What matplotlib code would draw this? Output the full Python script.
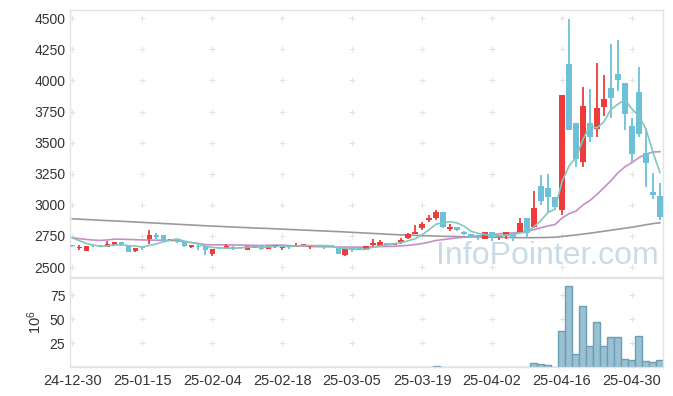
import matplotlib
matplotlib.use('Agg')
import matplotlib.pyplot as plt
import numpy as np
import pandas as pd

plt.rcParams['font.family'] = ['Liberation Sans', 'DejaVu Sans']

# tick labels every 10 trading days
tick_dates = ['24-12-30', '25-01-15', '25-02-04', '25-02-18', '25-03-05',
              '25-03-19', '25-04-02', '25-04-16', '25-04-30']

# daily OHLC
opens = [2672, 2652, 2631, 2671, 2674, 2661, 2679, 2698, 2679, 2631,
         2657, 2725, 2759, 2757, 2711, 2727, 2706, 2661, 2663, 2669,
         2607, 2655, 2647, 2657, 2657, 2639, 2655, 2669, 2647, 2661,
         2650, 2669, 2663, 2671, 2661, 2677, 2669, 2674, 2655, 2594,
         2655, 2658, 2637, 2677, 2671, 2693, 2679, 2698, 2735, 2768,
         2811, 2875, 2896, 2944, 2808, 2821, 2784, 2762, 2755, 2728,
         2781, 2738, 2749, 2770, 2779, 2891, 2819, 3151, 3133, 3063,
         2955, 4131, 3659, 3346, 3659, 3612, 3783, 3937, 4050, 3978,
         3633, 3906, 3420, 3102, 3068]
highs = [2676, 2677, 2668, 2673, 2676, 2709, 2700, 2700, 2681, 2657,
         2672, 2797, 2773, 2759, 2727, 2729, 2708, 2679, 2677, 2671,
         2649, 2658, 2685, 2669, 2660, 2668, 2671, 2671, 2673, 2679,
         2671, 2671, 2690, 2687, 2679, 2679, 2671, 2676, 2657, 2657,
         2657, 2660, 2671, 2722, 2716, 2695, 2695, 2730, 2775, 2837,
         2859, 2918, 2957, 2946, 2843, 2823, 2786, 2764, 2757, 2783,
         2783, 2759, 2783, 2772, 2891, 2893, 3110, 3238, 3250, 3065,
         3884, 4496, 3661, 3951, 3928, 4143, 4041, 4291, 4327, 3980,
         3694, 4104, 3614, 3253, 3175]
lows = [2664, 2636, 2629, 2665, 2666, 2659, 2677, 2666, 2621, 2623,
        2638, 2687, 2727, 2709, 2709, 2696, 2665, 2653, 2637, 2596,
        2591, 2645, 2645, 2637, 2645, 2637, 2653, 2637, 2645, 2651,
        2640, 2645, 2661, 2669, 2645, 2667, 2645, 2661, 2605, 2592,
        2618, 2643, 2635, 2661, 2669, 2675, 2677, 2685, 2722, 2766,
        2794, 2864, 2880, 2817, 2792, 2793, 2760, 2736, 2719, 2726,
        2713, 2719, 2722, 2713, 2777, 2733, 2817, 3000, 2944, 2958,
        2918, 3598, 3301, 3306, 3504, 3542, 3715, 3700, 3911, 3600,
        3342, 3542, 3147, 3044, 2875]
closes = [2668, 2658, 2666, 2668, 2670, 2685, 2698, 2682, 2623, 2655,
          2653, 2757, 2738, 2711, 2725, 2698, 2671, 2677, 2659, 2634,
          2647, 2651, 2669, 2653, 2653, 2666, 2669, 2647, 2671, 2677,
          2669, 2658, 2674, 2685, 2677, 2669, 2658, 2663, 2607, 2655,
          2639, 2645, 2669, 2695, 2701, 2677, 2693, 2719, 2762, 2784,
          2843, 2891, 2944, 2819, 2824, 2795, 2762, 2738, 2733, 2781,
          2738, 2757, 2781, 2738, 2856, 2770, 2974, 3033, 3060, 2982,
          3882, 3600, 3365, 3795, 3547, 3780, 3853, 3861, 4002, 3732,
          3406, 3572, 3339, 3081, 2904]

# volume in millions
volume = [0, 0, 0, 0, 0, 0, 0, 0, 0, 0,
          0, 0, 0, 0, 0, 0, 0, 0, 0, 0,
          0, 0, 0, 0, 0, 0, 0, 0, 0, 0,
          0, 0, 0, 0, 0, 0, 0, 0, 0, 0,
          0, 0, 0, 0, 0, 0, 0, 0, 0, 0,
          0, 0, 1.0, 0, 0, 0, 0, 0, 0, 0,
          0, 0, 0, 0, 0, 0, 4.2, 3.1, 2.0, 0,
          37.5, 84.4, 13.5, 63.5, 21.9, 46.5, 21.9, 30.9, 30.9, 8.3,
          7.3, 32.3, 6.2, 5.2, 7.3]

# moving averages before enough days are on the chart
ma5_lead = [2735, 2712, 2690, 2677]
ma20_lead = [2735, 2728, 2722, 2717, 2714, 2718, 2724, 2724, 2722, 2720,
             2718, 2717, 2716, 2715, 2714, 2712, 2704, 2697, 2690]
ma_long = [2888, 2885, 2882, 2879, 2876, 2873, 2871, 2868, 2865, 2862,
           2859, 2856, 2853, 2850, 2847, 2844, 2841, 2838, 2835, 2832,
           2829, 2827, 2824, 2822, 2819, 2817, 2814, 2812, 2810, 2807,
           2805, 2802, 2800, 2797, 2795, 2792, 2790, 2787, 2785, 2782,
           2779, 2776, 2773, 2770, 2767, 2764, 2761, 2759, 2757, 2755,
           2753, 2751, 2749, 2747, 2746, 2745, 2744, 2743, 2742, 2741,
           2740, 2739, 2738, 2737, 2736, 2736, 2736, 2737, 2738, 2740,
           2746, 2752, 2758, 2765, 2772, 2780, 2788, 2796, 2804, 2812,
           2820, 2830, 2840, 2849, 2856]

RED = '#ef3b3b'
BLUE = '#6cc1d9'

n = len(closes)
x = np.arange(n)
o = np.array(opens, dtype=float)
h = np.array(highs, dtype=float)
l = np.array(lows, dtype=float)
c = np.array(closes, dtype=float)

cs = pd.Series(c)
ma5 = cs.rolling(5).mean().values
ma5[:len(ma5_lead)] = ma5_lead
ma20 = cs.rolling(20).mean().values
ma20[:len(ma20_lead)] = ma20_lead

fig = plt.figure(figsize=(6.73, 3.96), dpi=100)
ax = fig.add_axes([0.1033, 0.3005, 0.8819, 0.673])
axv = fig.add_axes([0.1033, 0.0732, 0.8819, 0.2247], sharex=ax)

xt = np.arange(0, n, 10)
yt = np.arange(2500, 4501, 250)
vt = [25, 50, 75]

# grid as small crosses
gx, gy = np.meshgrid(xt, yt)
ax.scatter(gx.ravel(), gy.ravel(), marker='+', s=14, color='#e4e4e4', linewidths=0.8, zorder=0)
gx, gy = np.meshgrid(xt, vt)
axv.scatter(gx.ravel(), gy.ravel(), marker='+', s=14, color='#e4e4e4', linewidths=0.8, zorder=0)

# watermark
ax.text((547 - 72) / 7, 2500 + (267 - 256) / 0.1245, 'InfoPointer.com', fontsize=23,
        color='#c9dbe6', ha='center', va='center', zorder=1)

# moving averages
ax.plot(x, ma_long, color='#9a9a9a', lw=1.2, zorder=2)
ax.plot(x, ma20, color='#c78ec8', lw=1.2, zorder=2)
ax.plot(x, ma5, color='#80c8bd', lw=1.2, zorder=4)

# candles
cols = [RED if c[i] >= o[i] else BLUE for i in range(n)]
ax.vlines(x, l, h, colors=cols, lw=1.3, zorder=3)
bottom = np.minimum(o, c)
height = np.maximum(np.abs(c - o), 10)
ax.bar(x, height, bottom=bottom, width=0.75, color=cols, zorder=3, linewidth=0)

axv.bar(x, volume, width=1.0, color='#9ac1d1', edgecolor='#6b9fb6', linewidth=1.0, zorder=2)

ax.set_xlim(-0.4, 84.45)
ax.set_ylim(2420, 4562)
axv.set_ylim(0, 92.7)

ax.set_yticks(yt)
ax.set_xticks(xt)
axv.set_yticks(vt)
axv.set_xticks(xt)
axv.set_xticklabels(tick_dates)
ax.tick_params(axis='x', labelbottom=False, length=0)
ax.tick_params(axis='y', length=0, pad=3, labelsize=10, labelcolor='#333333')
axv.tick_params(axis='y', length=0, pad=3, labelsize=10, labelcolor='#333333')
axv.tick_params(axis='x', length=0, pad=5, labelsize=10.5, labelcolor='#333333')
axv.set_ylabel(r'$\mathregular{10^6}$', fontsize=10.5, color='#333333', labelpad=4)

for a in (ax, axv):
    for s in a.spines.values():
        s.set_color('#e3e3e3')
        s.set_linewidth(1.0)

fig.savefig('out.png', dpi=100)
